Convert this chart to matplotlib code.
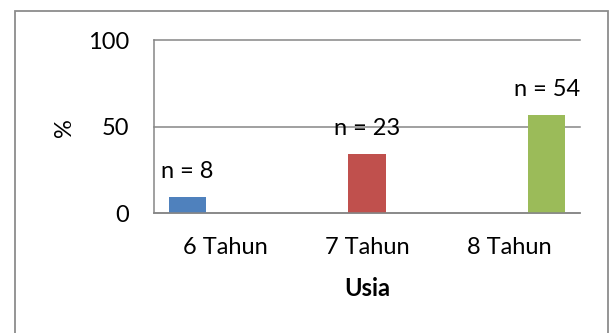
import matplotlib
matplotlib.use('Agg')
import matplotlib.pyplot as plt
from matplotlib.patches import Rectangle

# Persentase anak per kelompok usia, dengan jumlah n di atas batang
categories = ['6 Tahun', '7 Tahun', '8 Tahun']
percent = [9.3, 34.3, 56.8]
counts = [8, 23, 54]
colors = ['#4F81BD', '#C0504D', '#9BBB59']
yticks = [0, 50, 100]

plt.rcParams['font.family'] = ['Lato', 'DejaVu Sans']

fig = plt.figure(figsize=(6.09, 3.33), dpi=100)
fig.patch.set_facecolor('white')

# chart area border (runs off the bottom edge)
fig.patches.append(Rectangle((14.5 / 609, -0.05), 593 / 609, 1 - 10.5 / 333 + 0.05,
                             transform=fig.transFigure, fill=False,
                             edgecolor='#8C8C8C', linewidth=1.3))

ax = fig.add_axes([154 / 609, 1 - 213 / 333, 426 / 609, 172.7 / 333])

# clustered layout: each series occupies its own slot inside the category
width = 0.265
for i, (p, n, c) in enumerate(zip(percent, counts, colors)):
    x = i + (i - 1) * width
    ax.bar(x, p, width=width, color=c, zorder=3)
    ax.annotate(f'n = {n}', (x, p), xytext=(0, 13.5), textcoords='offset points',
                ha='center', va='baseline', fontsize=17, zorder=4)

ax.set_xlim(-0.5, 2.5)
ax.set_ylim(0, 100)
ax.set_yticks(yticks)
ax.set_xticks(range(len(categories)))
ax.set_xticklabels(categories)
ax.tick_params(axis='both', length=0, labelsize=17, colors='black')
ax.tick_params(axis='y', pad=18)
ax.tick_params(axis='x', pad=17)

ax.grid(axis='y', color='#868686', linewidth=1.1, zorder=1)
for line in ax.get_ygridlines():
    line.set_clip_on(False)
for side in ['top', 'right']:
    ax.spines[side].set_visible(False)
for side in ['left', 'bottom']:
    ax.spines[side].set_color('#868686')
    ax.spines[side].set_linewidth(1.1)
    ax.spines[side].set_zorder(5)

fig.text(64.5 / 609, 1 - 128 / 333, '%', rotation=90, ha='center', va='center', fontsize=17)
fig.text(367 / 609, 1 - 289 / 333, 'Usia', ha='center', va='center',
         fontsize=17, fontweight='bold')

fig.savefig('out.png', dpi=100)
